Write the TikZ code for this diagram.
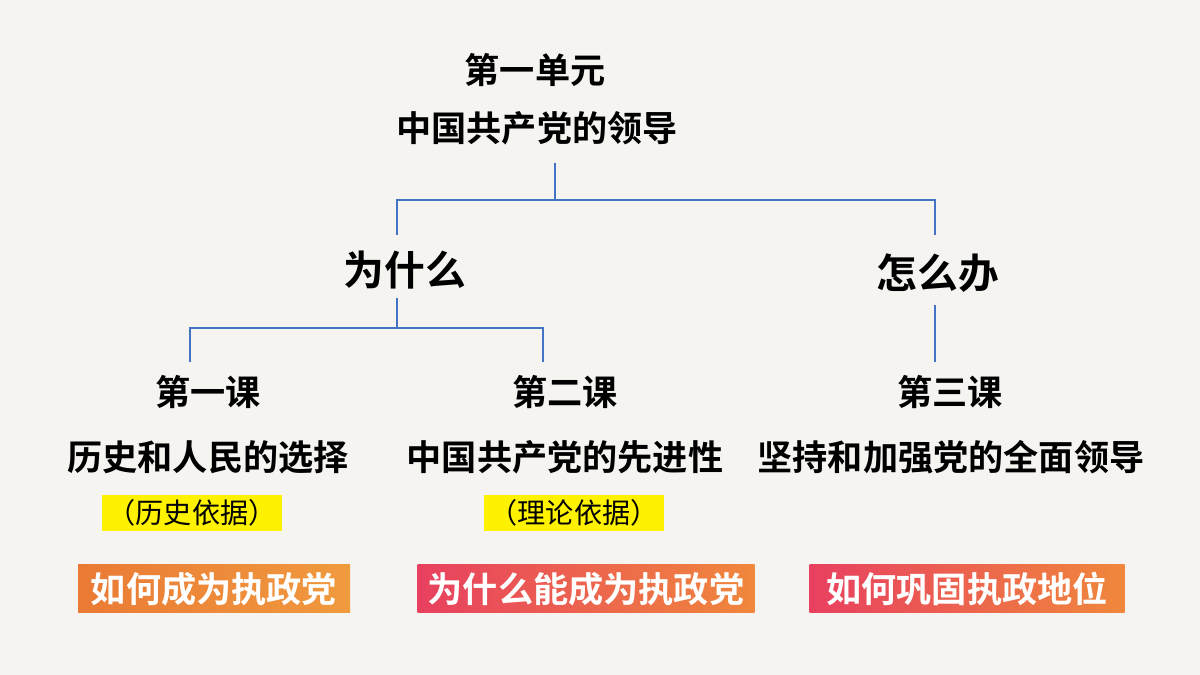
\documentclass[tikz,border=0pt]{standalone}
\usepackage{fontspec}
\newfontfamily\cjk{Noto Sans CJK SC}[BoldFont={Noto Sans CJK SC Bold}]
\usetikzlibrary{positioning,calc}
\definecolor{linkblue}{HTML}{4472C4}
\definecolor{bgpaper}{HTML}{F6F4F1}
\definecolor{tagorange}{HTML}{EA7A35}
\definecolor{tagamber}{HTML}{F09A3E}
\definecolor{tagpink}{HTML}{E84060}
\definecolor{tagtan}{HTML}{F0883C}
\begin{document}
\begin{tikzpicture}[x=0.025cm,y=0.025cm,
  txt/.style={font=\cjk\bfseries\fontsize{25}{29}\selectfont,inner sep=0pt},
  big/.style={font=\cjk\bfseries\fontsize{29}{33}\selectfont,inner sep=0pt},
  hl/.style={fill=yellow,font=\cjk\fontsize{20}{24}\selectfont,inner xsep=4pt,inner ysep=3pt},
  tag/.style={font=\cjk\bfseries\fontsize{25}{29}\selectfont,text=white,minimum height=48*0.025cm,inner xsep=4pt},
  link/.style={draw=linkblue,line width=0.8pt}]
  \fill[bgpaper] (0,0) rectangle (1200,675);
  % top
  \node[txt] (unit) at (535,605) {第一单元};
  \node[txt] (lead) at (537,547) {中国共产党的领导};
  \node[big] (why) at (405,405) {为什么};
  \node[big] (how) at (938,402) {怎么办};
  % lessons
  \node[txt] (l1t) at (208,283) {第一课};
  \node[txt] (l1) at (208,218) {历史和人民的选择};
  \node[txt] (l2t) at (565,283) {第二课};
  \node[txt] (l2) at (565,218) {中国共产党的先进性};
  \node[txt] (l3t) at (950,283) {第三课};
  \node[txt] (l3) at (951,218) {坚持和加强党的全面领导};
  \node[hl] (b1) at (192,162) {（历史依据）};
  \node[hl] (b2) at (574,162) {（理论依据）};
  % tags
  \node[tag,left color=tagorange,right color=tagamber,minimum width=272*0.025cm] (t1) at (214,86) {如何成为执政党};
  \node[tag,left color=tagpink,right color=tagtan,minimum width=337*0.025cm] (t2) at (586,86) {为什么能成为执政党};
  \node[tag,left color=tagpink,right color=tagtan,minimum width=315*0.025cm] (t3) at (967,86) {如何巩固执政地位};
  % connectors
  \coordinate (a0) at (555,512);
  \coordinate (a1) at (397,440);
  \coordinate (a2) at (935,440);
  \coordinate (c0) at (397,377);
  \coordinate (c1) at (190,313);
  \coordinate (c2) at (543,313);
  \coordinate (d0) at (935,370);
  \coordinate (d1) at (935,313);
  \draw[link] (a0) -- ++(0,-37) -| (a1);
  \draw[link] (a0) ++(0,-37) -| (a2);
  \draw[link] (c0) -- ++(0,-30) -| (c1);
  \draw[link] (c0) ++(0,-30) -| (c2);
  \draw[link] (d0) -- (d1);
\end{tikzpicture}
\end{document}
